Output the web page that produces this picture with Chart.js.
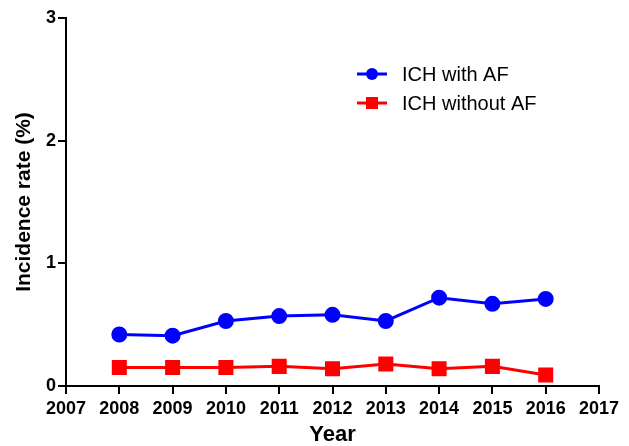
<!DOCTYPE html>
<html>
<head>
<meta charset="utf-8">
<script src="https://cdn.jsdelivr.net/npm/chart.js@4"></script>
<style>
  html, body { margin: 0; padding: 0; background: #fff; }
  #wrap { width: 629px; height: 446px; position: relative; }
</style>
</head>
<body>
<div id="wrap"><canvas id="chart" width="629" height="446"></canvas></div>
<script>
// Data
const years = [2008, 2009, 2010, 2011, 2012, 2013, 2014, 2015, 2016];
const withAF = [0.42, 0.41, 0.53, 0.57, 0.58, 0.53, 0.72, 0.67, 0.71];
const withoutAF = [0.15, 0.15, 0.15, 0.16, 0.14, 0.18, 0.14, 0.16, 0.09];
const seriesNames = ['ICH with AF', 'ICH without AF'];
const xTickRange = [2007, 2017];
const yTickRange = [0, 3];

const FONT = '"Liberation Sans", Arial, sans-serif';
const toPoints = vals => vals.map((v, i) => ({ x: years[i], y: v }));

// draws the legend inside the plot, top right like the original
const legendPlugin = {
  id: 'innerLegend',
  afterDraw(chart) {
    const ctx = chart.ctx;
    const x0 = 357, rowY = [74, 103];
    ctx.save();
    chart.data.datasets.forEach((ds, i) => {
      const y = rowY[i];
      ctx.strokeStyle = ds.borderColor;
      ctx.lineWidth = 3;
      ctx.beginPath();
      ctx.moveTo(x0, y);
      ctx.lineTo(x0 + 30, y);
      ctx.stroke();
      ctx.fillStyle = ds.borderColor;
      if (ds.pointStyle === 'rect') {
        ctx.fillRect(x0 + 9, y - 6, 12, 12);
      } else {
        ctx.beginPath();
        ctx.arc(x0 + 15, y, 6, 0, Math.PI * 2);
        ctx.fill();
      }
      ctx.fillStyle = '#000';
      ctx.font = '20px ' + FONT;
      ctx.textBaseline = 'middle';
      ctx.fillText(ds.label, x0 + 45, y + 1);
    });
    ctx.restore();
  }
};

new Chart(document.getElementById('chart'), {
  type: 'line',
  data: {
    datasets: [
      {
        label: seriesNames[0],
        data: toPoints(withAF),
        borderColor: '#0000ff',
        backgroundColor: '#0000ff',
        borderWidth: 3,
        pointStyle: 'circle',
        pointRadius: 6.5,
        pointHoverRadius: 6.5,
        tension: 0
      },
      {
        label: seriesNames[1],
        data: toPoints(withoutAF),
        borderColor: '#ff0000',
        backgroundColor: '#ff0000',
        borderWidth: 3,
        pointStyle: 'rect',
        pointRadius: 8.5,
        pointHoverRadius: 8.5,
        tension: 0
      }
    ]
  },
  options: {
    responsive: false,
    animation: false,
    layout: { padding: { top: 18, right: 30, left: 0, bottom: 0 } },
    plugins: {
      legend: { display: false },
      tooltip: { enabled: false }
    },
    scales: {
      x: {
        type: 'linear',
        min: xTickRange[0],
        max: xTickRange[1],
        afterFit: s => { s.height = 60; },
        ticks: {
          stepSize: 1,
          color: '#000',
          padding: 4,
          maxRotation: 0,
          autoSkip: false,
          font: { family: FONT, size: 18, weight: 'bold' },
          callback: v => String(v)
        },
        grid: { display: true, drawOnChartArea: false, drawTicks: true, tickLength: 8, color: '#000', lineWidth: 2 },
        border: { color: '#000', width: 2 },
        title: {
          display: true,
          text: 'Year',
          color: '#000',
          padding: { top: 0, bottom: 0 },
          font: { family: FONT, size: 22, weight: 'bold', lineHeight: 1 }
        }
      },
      y: {
        min: yTickRange[0],
        max: yTickRange[1],
        afterFit: s => { s.width = 66; },
        ticks: {
          stepSize: 1,
          color: '#000',
          padding: 2,
          font: { family: FONT, size: 18, weight: 'bold' }
        },
        grid: { display: true, drawOnChartArea: false, drawTicks: true, tickLength: 8, color: '#000', lineWidth: 2 },
        border: { color: '#000', width: 2 },
        title: {
          display: true,
          text: 'Incidence rate (%)',
          color: '#000',
          padding: { top: 14, bottom: 0 },
          font: { family: FONT, size: 21, weight: 'bold', lineHeight: 1 }
        }
      }
    }
  },
  plugins: [legendPlugin]
});
</script>
</body>
</html>
